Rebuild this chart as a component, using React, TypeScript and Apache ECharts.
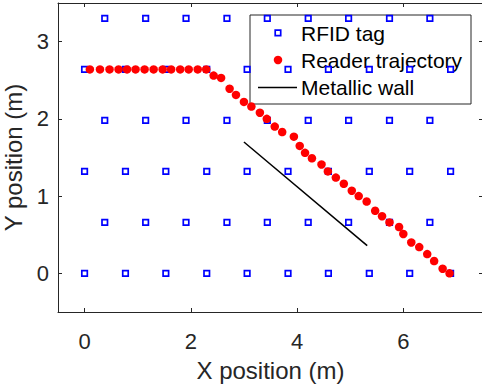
import React, { useEffect, useRef } from "react";
import * as echarts from "echarts";

// RFID tag grid (rows alternate between two x offsets)
const tagRowY = [0, 0.66, 1.32, 1.98, 2.64, 3.3];
const tagXEven = [0, 0.77, 1.53, 2.3, 3.06, 3.83, 4.59, 5.36, 6.12, 6.89];
const tagXOdd = [0.38, 1.15, 1.91, 2.68, 3.44, 4.21, 4.97, 5.74, 6.5];

// Reader trajectory
const trajX = [
  0.1, 0.29, 0.47, 0.64, 0.8, 0.96, 1.13, 1.3, 1.47, 1.63, 1.8, 1.96, 2.13, 2.29,
  2.43, 2.57, 2.73, 2.85, 3.0, 3.14, 3.3, 3.43, 3.58, 3.72, 3.94, 4.05, 4.15, 4.28,
  4.46, 4.58, 4.73, 4.88, 5.03, 5.16, 5.31, 5.47, 5.6, 5.74, 5.92, 6.0, 6.15, 6.3,
  6.45, 6.58, 6.74, 6.87,
];
const trajY = [
  2.64, 2.64, 2.64, 2.64, 2.64, 2.64, 2.64, 2.64, 2.64, 2.64, 2.64, 2.64, 2.64, 2.64,
  2.56, 2.53, 2.39, 2.31, 2.22, 2.16, 2.08, 2.0, 1.9, 1.83, 1.77, 1.65, 1.56, 1.49,
  1.41, 1.32, 1.24, 1.16, 1.07, 1.0, 0.93, 0.81, 0.74, 0.66, 0.6, 0.51, 0.4, 0.34,
  0.25, 0.16, 0.06, 0.0,
];

// Metallic wall
const wallX = [3.0, 5.32];
const wallY = [1.7, 0.36];

const xTicks = [0, 2, 4, 6];
const yTicks = [0, 1, 2, 3];

const legendNames = ["RFID tag", "Reader trajectory", "Metallic wall"];

const FONT = '"Liberation Sans", Arial, Helvetica, sans-serif';
const AXIS_COLOR = "#262626";

export default function App() {
  const ref = useRef<HTMLDivElement>(null);

  useEffect(() => {
    if (!ref.current) return;
    const chart = echarts.init(ref.current, undefined, { renderer: "svg" });

    const tags: number[][] = [];
    tagRowY.forEach((y, i) => {
      const xs = i % 2 === 0 ? tagXEven : tagXOdd;
      xs.forEach((x) => tags.push([x, y]));
    });
    const traj = trajX.map((x, i) => [x, trajY[i]]);
    const wall = wallX.map((x, i) => [x, wallY[i]]);

    const axisCommon = {
      min: -0.5,
      axisLine: { show: true, onZero: false, lineStyle: { color: AXIS_COLOR, width: 1 } },
      splitLine: { show: false },
    };

    const lx = 250;
    const ly = 15;

    chart.setOption({
      animation: false,
      backgroundColor: "#ffffff",
      textStyle: { fontFamily: FONT },
      grid: { left: 58, top: 3, right: -1, bottom: 75, containLabel: false, outerBoundsMode: "none" },
      xAxis: [
        {
          ...axisCommon,
          type: "value",
          position: "bottom",
          max: 7.5,
          name: "X position (m)",
          nameLocation: "middle",
          nameGap: 46,
          nameTextStyle: { fontSize: 24, color: AXIS_COLOR, fontFamily: FONT },
          axisTick: { show: true, inside: true, length: 4, customValues: xTicks, lineStyle: { color: AXIS_COLOR } },
          axisLabel: { show: true, customValues: xTicks, fontSize: 22, color: AXIS_COLOR, margin: 18, fontFamily: FONT },
        },
        {
          ...axisCommon,
          type: "value",
          position: "top",
          max: 7.5,
          axisTick: { show: true, inside: true, length: 4, customValues: xTicks, lineStyle: { color: AXIS_COLOR } },
          axisLabel: { show: false },
        },
      ],
      yAxis: [
        {
          ...axisCommon,
          type: "value",
          position: "left",
          max: 3.5,
          name: "Y position (m)",
          nameLocation: "middle",
          nameGap: 24,
          nameRotate: 90,
          nameTextStyle: { fontSize: 24, color: AXIS_COLOR, fontFamily: FONT },
          axisTick: { show: true, inside: true, length: 4, customValues: yTicks, lineStyle: { color: AXIS_COLOR } },
          axisLabel: { show: true, customValues: yTicks, fontSize: 22, color: AXIS_COLOR, margin: 9, fontFamily: FONT },
        },
        {
          ...axisCommon,
          type: "value",
          position: "right",
          max: 3.5,
          axisTick: { show: true, inside: true, length: 4, customValues: yTicks, lineStyle: { color: AXIS_COLOR } },
          axisLabel: { show: false },
        },
      ],
      series: [
        {
          name: legendNames[0],
          type: "scatter",
          data: tags,
          symbol: "rect",
          symbolSize: 5.5,
          itemStyle: { color: "#ffffff", borderColor: "#0000ff", borderWidth: 1.7, opacity: 1 },
          z: 2,
        },
        {
          name: legendNames[1],
          type: "scatter",
          data: traj,
          symbol: "circle",
          symbolSize: 8.5,
          itemStyle: { color: "#ff0000", opacity: 1 },
          z: 3,
        },
        {
          name: legendNames[2],
          type: "line",
          data: wall,
          symbol: "none",
          lineStyle: { color: "#000000", width: 1.5 },
          z: 4,
        },
      ],
      graphic: [
        {
          type: "group",
          z: 100,
          children: [
            {
              type: "rect",
              shape: { x: lx, y: ly, width: 221, height: 89 },
              style: { fill: "#ffffff", stroke: AXIS_COLOR, lineWidth: 1 },
            },
            {
              type: "rect",
              shape: { x: 275.2, y: 30.2, width: 5.5, height: 5.5 },
              style: { fill: "#ffffff", stroke: "#0000ff", lineWidth: 1.7 },
            },
            {
              type: "circle",
              shape: { cx: 278, cy: 60, r: 4.25 },
              style: { fill: "#ff0000" },
            },
            {
              type: "line",
              shape: { x1: 258, y1: 87.5, x2: 297, y2: 87.5 },
              style: { stroke: "#000000", lineWidth: 1.5 },
            },
            {
              type: "text",
              x: 301,
              y: 33,
              style: { text: legendNames[0], fontSize: 21, fontFamily: FONT, fill: "#000000", verticalAlign: "middle", align: "left" },
            },
            {
              type: "text",
              x: 301,
              y: 60,
              style: { text: legendNames[1], fontSize: 21, fontFamily: FONT, fill: "#000000", verticalAlign: "middle", align: "left" },
            },
            {
              type: "text",
              x: 301,
              y: 87.5,
              style: { text: legendNames[2], fontSize: 21, fontFamily: FONT, fill: "#000000", verticalAlign: "middle", align: "left" },
            },
          ],
        },
      ],
    });

    return () => chart.dispose();
  }, []);

  return (
    <div
      ref={ref}
      style={{ position: "absolute", left: 0, top: 0, width: 482, height: 387 }}
    />
  );
}
